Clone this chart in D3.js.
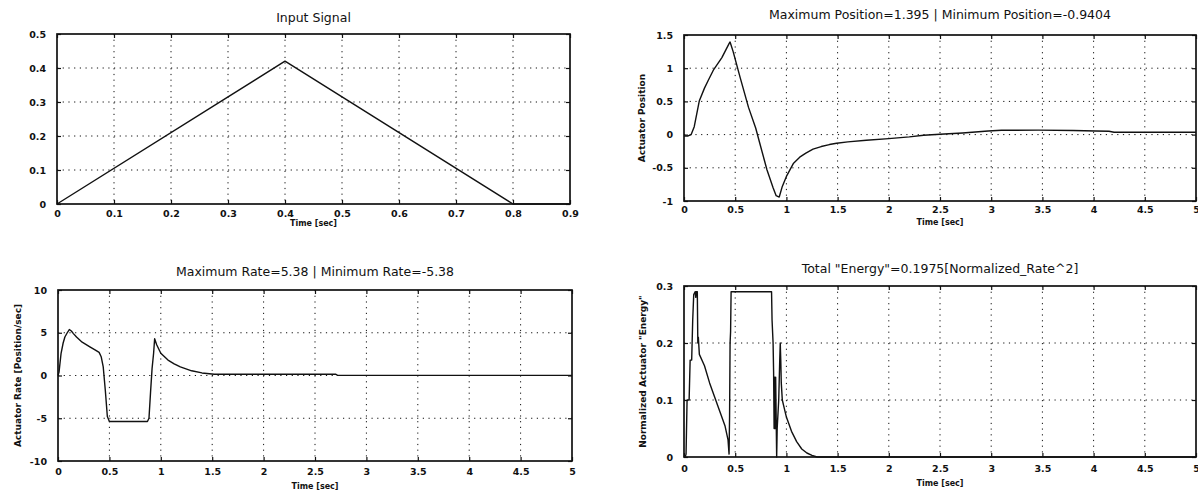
<!DOCTYPE html>
<html>
<head>
<meta charset="utf-8">
<script src="https://cdn.jsdelivr.net/npm/d3@7"></script>
<style>
  html, body { margin: 0; padding: 0; background: #fff; }
  svg { display: block; }
  .title { font-family: "DejaVu Sans", sans-serif; font-size: 12.5px; fill: #111; }
  .tick-label { font-family: "DejaVu Sans", sans-serif; font-weight: bold; font-size: 9.5px; fill: #111; }
  .axis-label { font-family: "DejaVu Sans", sans-serif; font-weight: bold; font-size: 8px; fill: #111; }
  .y-label { font-family: "DejaVu Sans", sans-serif; font-weight: bold; font-size: 9px; fill: #111; }
</style>
</head>
<body>
<svg id="chart" width="1198" height="494"></svg>
<script>
// ---- Input signal (triangular command) ----
const inputTime   = [0, 0.4, 0.8, 0.9];
const inputSignal = [0, 0.42, 0, 0];
const inputTicksX = [0, 0.1, 0.2, 0.3, 0.4, 0.5, 0.6, 0.7, 0.8, 0.9];
const inputTicksY = [0, 0.1, 0.2, 0.3, 0.4, 0.5];

// ---- Actuator position ----
const positionTime = [0, 0.04, 0.07, 0.1, 0.15, 0.2, 0.235, 0.29, 0.33, 0.37, 0.41, 0.44, 0.45, 0.48,
  0.55, 0.63, 0.7, 0.74, 0.81, 0.87, 0.9, 0.93, 0.96, 1.0, 1.07, 1.13, 1.19, 1.26, 1.34, 1.42, 1.49,
  1.6, 1.78, 2.0, 2.2, 2.34, 2.5, 2.72, 2.97, 3.1, 3.46, 3.8, 4.02, 4.15, 4.2, 5.0];
const positionValues = [-0.02, -0.02, 0.0, 0.12, 0.51, 0.7, 0.81, 0.98, 1.07, 1.16, 1.28, 1.37, 1.395, 1.25,
  0.85, 0.41, 0.1, -0.13, -0.53, -0.8, -0.92, -0.9404, -0.78, -0.63, -0.43, -0.34, -0.28, -0.22, -0.18, -0.15, -0.13,
  -0.11, -0.085, -0.06, -0.035, -0.01, 0.005, 0.025, 0.055, 0.065, 0.068, 0.062, 0.055, 0.05, 0.035, 0.035];

// ---- Actuator rate ----
const rateTime = [0, 0.01, 0.03, 0.05, 0.067, 0.09, 0.11, 0.13, 0.15, 0.18, 0.235, 0.31, 0.36, 0.4, 0.42,
  0.44, 0.46, 0.48, 0.5, 0.87, 0.885, 0.9, 0.915, 0.93, 0.94, 0.96, 1.0, 1.07, 1.13, 1.19, 1.3, 1.4, 1.52,
  2.7, 2.72, 5.0];
const rateValues = [0, 0.4, 2.6, 3.8, 4.5, 5.0, 5.38, 5.2, 4.9, 4.5, 3.9, 3.35, 3.0, 2.7, 2.2,
  1.0, -1.7, -4.8, -5.38, -5.38, -5.0, -2.0, 0.8, 2.6, 4.3, 3.6, 2.6, 1.8, 1.35, 1.0, 0.55, 0.3, 0.15,
  0.15, 0.02, 0.02];

// ---- Normalized actuator "energy" ----
const energyTime = [0, 0.015, 0.02, 0.03, 0.05, 0.06, 0.075, 0.085, 0.095, 0.11, 0.115, 0.12, 0.13, 0.135,
  0.14, 0.15, 0.2, 0.25, 0.3, 0.35, 0.4, 0.43, 0.44, 0.445, 0.45, 0.455, 0.46, 0.855, 0.86, 0.87, 0.875,
  0.88, 0.885, 0.89, 0.895, 0.905, 0.91, 0.925, 0.935, 0.94, 0.945, 0.95, 0.96, 0.98, 1.0, 1.05, 1.1,
  1.15, 1.2, 1.25, 1.3, 5.0];
const energyValues = [0, 0.002, 0.005, 0.1, 0.1, 0.17, 0.17, 0.24, 0.285, 0.29, 0.28, 0.29, 0.29, 0.2,
  0.21, 0.18, 0.16, 0.13, 0.105, 0.08, 0.055, 0.03, 0.005, 0.07, 0.2, 0.22, 0.29, 0.29, 0.24, 0.2, 0.15,
  0.05, 0.14, 0.05, 0.14, 0.0, 0.05, 0.1, 0.17, 0.2, 0.17, 0.13, 0.1, 0.085, 0.07, 0.045, 0.027,
  0.014, 0.007, 0.003, 0.0, 0.0];

const timeTicks   = [0, 0.5, 1, 1.5, 2, 2.5, 3, 3.5, 4, 4.5, 5];
const positionTicksY = [-1, -0.5, 0, 0.5, 1, 1.5];
const rateTicksY  = [-10, -5, 0, 5, 10];
const energyTicksY = [0, 0.1, 0.2, 0.3];

const titles = {
  input: "Input Signal",
  position: "Maximum Position=1.395 | Minimum Position=-0.9404",
  rate: "Maximum Rate=5.38 | Minimum Rate=-5.38",
  energy: "Total \"Energy\"=0.1975[Normalized_Rate^2]"
};
const yLabels = {
  position: "Actuator Position",
  rate: "Actuator Rate [Position/sec]",
  energy: "Normalized Actuator \"Energy\""
};
const xLabel = "Time [sec]";

// ---- layout of the four axes ----
const panels = [
  { left: 57,  right: 570,  top: 34,  bottom: 204, xDomain: [0, 0.9], yDomain: [0, 0.5],
    xTicks: inputTicksX, yTicks: inputTicksY, t: inputTime, v: inputSignal,
    title: titles.input, titleY: 22, yLabel: null, xLabelY: 226, xPad: 6 },
  { left: 684, right: 1196, top: 35,  bottom: 201, xDomain: [0, 5], yDomain: [-1, 1.5],
    xTicks: timeTicks, yTicks: positionTicksY, t: positionTime, v: positionValues,
    title: titles.position, titleY: 19, yLabel: yLabels.position, yLabelX: 642, xLabelY: 225, xPad: 5 },
  { left: 58,  right: 572,  top: 290, bottom: 461, xDomain: [0, 5], yDomain: [-10, 10],
    xTicks: timeTicks, yTicks: rateTicksY, t: rateTime, v: rateValues,
    title: titles.rate, titleY: 276, yLabel: yLabels.rate, yLabelX: 18, xLabelY: 489, xPad: 7 },
  { left: 684, right: 1196, top: 286, bottom: 457, xDomain: [0, 5], yDomain: [0, 0.3],
    xTicks: timeTicks, yTicks: energyTicksY, t: energyTime, v: energyValues,
    title: titles.energy, titleY: 273, yLabel: yLabels.energy, yLabelX: 643, xLabelY: 486, xPad: 8 }
];

const svg = d3.select("#chart");
svg.append("rect").attr("width", 1198).attr("height", 494).attr("fill", "#fff");

panels.forEach(p => {
  const x = d3.scaleLinear().domain(p.xDomain).range([p.left, p.right]);
  const y = d3.scaleLinear().domain(p.yDomain).range([p.bottom, p.top]);
  const g = svg.append("g");
  const w = p.right - p.left, h = p.bottom - p.top;

  // dotted grid
  const grid = g.append("g").attr("stroke", "#111").attr("stroke-width", 1)
    .attr("stroke-dasharray", "1.2,4.5");
  p.xTicks.slice(1, -1).forEach(d => {
    grid.append("line").attr("x1", x(d)).attr("x2", x(d)).attr("y1", p.top).attr("y2", p.bottom);
  });
  p.yTicks.slice(1, -1).forEach(d => {
    grid.append("line").attr("x1", p.left).attr("x2", p.right).attr("y1", y(d)).attr("y2", y(d));
  });

  // axes with inward ticks on all four sides
  const fmt = d => String(d);
  const ax = (axis, tr) => {
    const a = g.append("g").attr("transform", tr).call(axis);
    a.select(".domain").remove();
    a.selectAll("line").attr("stroke", "#111").attr("stroke-width", 1.2);
    a.selectAll("text").attr("class", "tick-label").attr("fill", "#111");
    return a;
  };
  ax(d3.axisBottom(x).tickValues(p.xTicks).tickFormat(fmt).tickSizeInner(-4).tickPadding(p.xPad),
     `translate(0,${p.bottom})`);
  ax(d3.axisTop(x).tickValues(p.xTicks).tickFormat("").tickSizeInner(-4).tickPadding(0),
     `translate(0,${p.top})`);
  ax(d3.axisLeft(y).tickValues(p.yTicks).tickFormat(fmt).tickSizeInner(-4).tickPadding(11),
     `translate(${p.left},0)`);
  ax(d3.axisRight(y).tickValues(p.yTicks).tickFormat("").tickSizeInner(-4).tickPadding(0),
     `translate(${p.right},0)`);

  // frame
  g.append("rect").attr("x", p.left).attr("y", p.top).attr("width", w).attr("height", h)
    .attr("fill", "none").attr("stroke", "#111").attr("stroke-width", 1.7);

  // trace
  const pts = p.t.map((t, i) => [t, p.v[i]]);
  const line = d3.line().x(d => x(d[0])).y(d => y(d[1]));
  g.append("path").datum(pts).attr("d", line)
    .attr("fill", "none").attr("stroke", "#111").attr("stroke-width", 1.4)
    .attr("stroke-linejoin", "round");

  // text
  g.append("text").attr("class", "title").attr("x", (p.left + p.right) / 2).attr("y", p.titleY)
    .attr("text-anchor", "middle").text(p.title);
  g.append("text").attr("class", "axis-label").attr("x", (p.left + p.right) / 2).attr("y", p.xLabelY)
    .attr("text-anchor", "middle").text(xLabel);
  if (p.yLabel) {
    const cy = (p.top + p.bottom) / 2;
    g.append("text").attr("class", "y-label")
      .attr("transform", `translate(${p.yLabelX},${cy}) rotate(-90)`)
      .attr("text-anchor", "middle").attr("dy", "0.35em").text(p.yLabel);
  }
});
</script>
</body>
</html>
